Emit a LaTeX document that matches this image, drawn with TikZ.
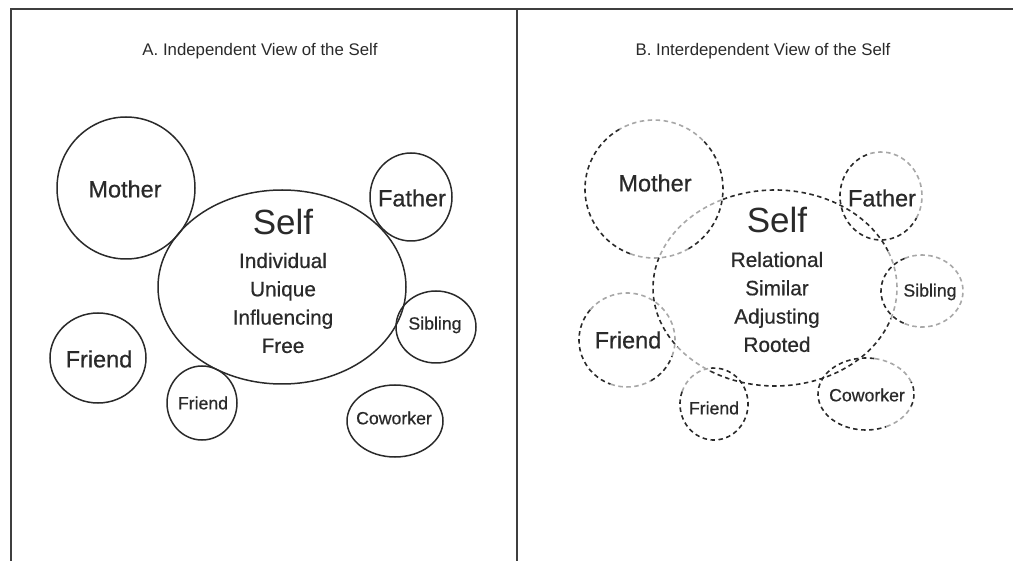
\documentclass[tikz,border=0pt]{standalone}
\usepackage{fontspec}
\setmainfont{Liberation Sans}[BoldFont={Liberation Sans},BoldFeatures={FakeBold=0.6}]
\usetikzlibrary{shapes.geometric}
\definecolor{ink}{HTML}{2A2A2A}
\definecolor{fade}{HTML}{A8A8A8}
\newcommand\darc[6]{\draw[#6] (#1.center) ++(#4:#2pt and #3pt) arc[start angle=#4, end angle=#5, x radius=#2pt, y radius=#3pt];}
\tikzset{
  frameline/.style={draw=ink!90, line width=2pt},
  solidring/.style={ellipse, draw=ink, line width=1.5pt, inner sep=0pt},
  hiddenring/.style={ellipse, draw=none, inner sep=0pt},
  bd/.style={draw=ink, line width=1.6pt, dash pattern=on 4.5pt off 3.5pt},
  gd/.style={draw=fade, line width=1.6pt, dash pattern=on 4.5pt off 3.5pt},
  ttl/.style={font=\fontsize{16.8}{20}\selectfont, text=ink, inner sep=0pt},
  bigtxt/.style={font=\fontsize{23.5}{28}\selectfont\bfseries, text=ink, inner sep=0pt},
  smalltxt/.style={font=\fontsize{17.7}{21}\selectfont\bfseries, text=ink, inner sep=0pt},
  selftxt/.style={font=\fontsize{35}{40}\selectfont, text=ink, inner sep=0pt},
  desctxt/.style={font=\fontsize{20.8}{28.3}\selectfont\bfseries, text=ink, inner sep=0pt, align=center},
}
\begin{document}
\begin{tikzpicture}[x=1pt,y=-1pt]
\useasboundingbox (0,0) rectangle (1013,561);
% frame
\draw[frameline] (1013,9) -- (11,9) -- (11,561);
\draw[frameline] (517,9) -- (517,561);
% titles
\node[ttl] (ta) at (260,51) {A. Independent View of the Self};
\node[ttl] (tb) at (763,51) {B. Interdependent View of the Self};

% ---------- Panel A ----------
\node[solidring, minimum width=138pt, minimum height=142pt] (amother) at (126,188) {};
\node[solidring, minimum width=248pt, minimum height=194pt] (aself) at (282,287) {};
\node[solidring, minimum width=82pt, minimum height=88pt] (afather) at (411,197) {};
\node[solidring, minimum width=80pt, minimum height=72pt] (asibling) at (436,327) {};
\node[solidring, minimum width=96pt, minimum height=72pt] (acoworker) at (395,421) {};
\node[solidring, minimum width=70pt, minimum height=74pt] (afriends) at (202,403) {};
\node[solidring, minimum width=96pt, minimum height=90pt] (afriendb) at (98,358) {};
\node[bigtxt] (lamother) at (125,189) {Mother};
\node[bigtxt] (lafather) at (412,198) {Father};
\node[smalltxt] (lasibling) at (435,325) {Sibling};
\node[smalltxt] (lacoworker) at (394,418) {Coworker};
\node[smalltxt] (lafriends) at (203,403) {Friend};
\node[bigtxt] (lafriendb) at (99,359) {Friend};
\node[selftxt] (laself) at (283,222) {Self};
\node[desctxt] (ladesc) at (283,303) {Individual\\Unique\\Influencing\\Free};

% ---------- Panel B ----------
\node[hiddenring, minimum width=138pt, minimum height=138pt] (bmother) at (654,189) {};
\node[hiddenring, minimum width=244pt, minimum height=196pt] (bself) at (775,288) {};
\node[hiddenring, minimum width=82pt, minimum height=88pt] (bfather) at (881,196) {};
\node[hiddenring, minimum width=82pt, minimum height=72pt] (bsibling) at (922,291) {};
\node[hiddenring, minimum width=96pt, minimum height=72pt] (bcoworker) at (866,394) {};
\node[hiddenring, minimum width=68pt, minimum height=72pt] (bfriends) at (714,404) {};
\node[hiddenring, minimum width=96pt, minimum height=94pt] (bfriendb) at (627,340) {};
% Mother
\darc{bmother}{69}{69}{120}{250}{bd}
\darc{bmother}{69}{69}{250}{300}{gd}
\darc{bmother}{69}{69}{300}{405}{bd}
\darc{bmother}{69}{69}{405}{480}{gd}
% Self
\darc{bself}{122}{98}{116}{162}{gd}
\darc{bself}{122}{98}{162}{217}{bd}
\darc{bself}{122}{98}{217}{238}{gd}
\darc{bself}{122}{98}{238}{342}{bd}
\darc{bself}{122}{98}{342}{382}{gd}
\darc{bself}{122}{98}{382}{476}{bd}
% Father
\darc{bfather}{41}{44}{110}{330}{bd}
\darc{bfather}{41}{44}{330}{470}{gd}
% Sibling
\darc{bsibling}{41}{36}{115}{245}{bd}
\darc{bsibling}{41}{36}{245}{475}{gd}
% Friend (big)
\darc{bfriendb}{48}{47}{140}{250}{bd}
\darc{bfriendb}{48}{47}{250}{300}{gd}
\darc{bfriendb}{48}{47}{300}{340}{bd}
\darc{bfriendb}{48}{47}{340}{500}{gd}
% Friend (small)
\darc{bfriends}{34}{36}{100}{160}{gd}
\darc{bfriends}{34}{36}{160}{460}{bd}
% Coworker
\darc{bcoworker}{48}{36}{80}{295}{bd}
\darc{bcoworker}{48}{36}{295}{340}{gd}
\darc{bcoworker}{48}{36}{340}{380}{bd}
\darc{bcoworker}{48}{36}{380}{440}{gd}
% texts
\node[bigtxt] (lbmother) at (655,183) {Mother};
\node[bigtxt] (lbfather) at (882,198) {Father};
\node[smalltxt] (lbsibling) at (930,292) {Sibling};
\node[smalltxt] (lbcoworker) at (867,395) {Coworker};
\node[smalltxt] (lbfriends) at (714,408) {Friend};
\node[bigtxt] (lbfriendb) at (628,340) {Friend};
\node[selftxt] (lbself) at (777,220) {Self};
\node[desctxt] (lbdesc) at (777,302) {Relational\\Similar\\Adjusting\\Rooted};
\end{tikzpicture}
\end{document}
